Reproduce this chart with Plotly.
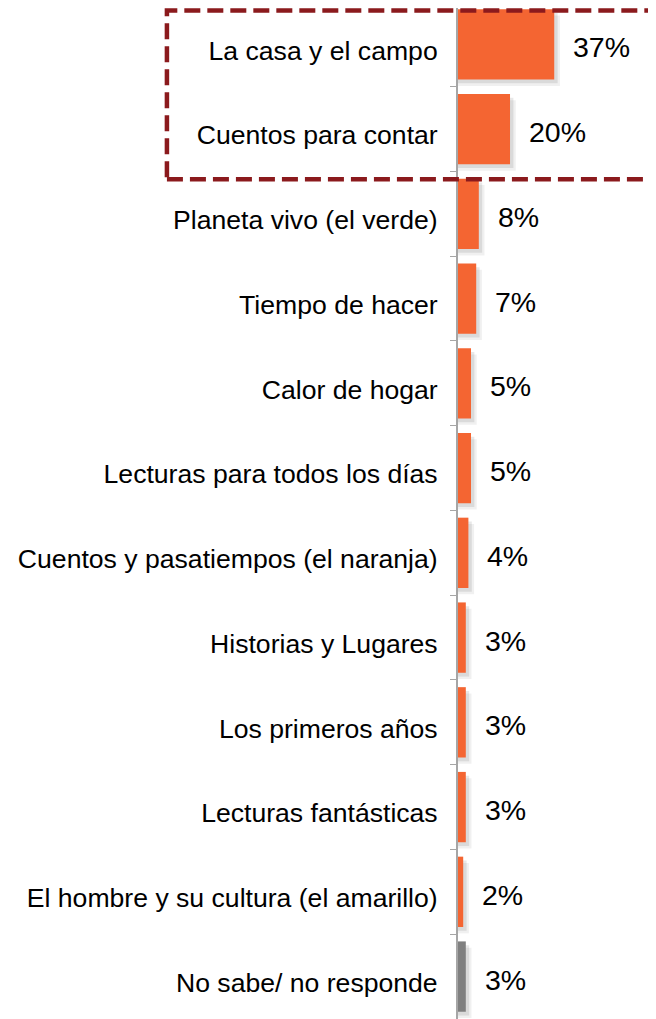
import plotly.graph_objects as go

# ----------------------------------------------------------------------
# Data
# ----------------------------------------------------------------------
categories = [
    "La casa y el campo",
    "Cuentos para contar",
    "Planeta vivo (el verde)",
    "Tiempo de hacer",
    "Calor de hogar",
    "Lecturas para todos los días",
    "Cuentos y pasatiempos (el naranja)",
    "Historias y Lugares",
    "Los primeros años",
    "Lecturas fantásticas",
    "El hombre y su cultura (el amarillo)",
    "No sabe/ no responde",
]
values = [37, 20, 8, 7, 5, 5, 4, 3, 3, 3, 2, 3]
labels = ["37%", "20%", "8%", "7%", "5%", "5%", "4%", "3%", "3%", "3%", "2%", "3%"]

ORANGE = "#F46532"
GREY = "#808080"
colors = [GREY if c.startswith("No sabe") else ORANGE for c in categories]
FONT = "Arial, Liberation Sans, sans-serif"

fig = go.Figure()

# soft drop shadow behind each bar (two layers to fake a blur)
for dx, doff, alpha in [(2.2, 0.075, 0.06), (1.3, 0.045, 0.09)]:
    fig.add_trace(go.Bar(
        y=categories, x=[v + dx for v in values], orientation="h",
        marker=dict(color=f"rgba(0,0,0,{alpha})", line_width=0),
        offset=-0.415 + doff, width=0.83, hoverinfo="skip", showlegend=False,
    ))
fig.add_trace(go.Bar(
    y=categories, x=values, orientation="h",
    marker=dict(color=colors, line_width=0),
    offset=-0.415, width=0.83, showlegend=False,
))

for cat, v, lab in zip(categories, values, labels):
    fig.add_annotation(
        x=v, y=cat, text=lab, showarrow=False, xanchor="left",
        xshift=17, yshift=-3, font=dict(size=28.5, color="#000000", family=FONT),
    )

# dashed highlight box around the top two categories
fig.add_shape(
    type="rect", xref="paper", yref="paper",
    x0=-1.413, x1=1.05, y0=0.832, y1=0.9975,
    line=dict(color="#8B1A1D", width=4.5, dash="16px,7px"),
)

# the page adds an 8px body margin, so the plot is laid out to absorb it
fig.update_layout(
    width=656, height=1019,
    margin=dict(l=450, r=0, t=0, b=0),
    plot_bgcolor="white", paper_bgcolor="white",
    barmode="overlay",
    font=dict(family=FONT),
)
fig.update_xaxes(range=[0, 79.2], visible=False)
fig.update_yaxes(
    range=[11.595, -0.429], type="category", automargin=False,
    showline=True, linecolor="#A6A6A6", linewidth=2,
    ticks="outside", tickson="boundaries", ticklen=6, tickcolor="#A6A6A6",
    tickfont=dict(size=26.6, color="#000000", family=FONT),
    ticklabelstandoff=13, ticklabelshift=-6,
    showgrid=False,
)

fig.write_html("out.html")
